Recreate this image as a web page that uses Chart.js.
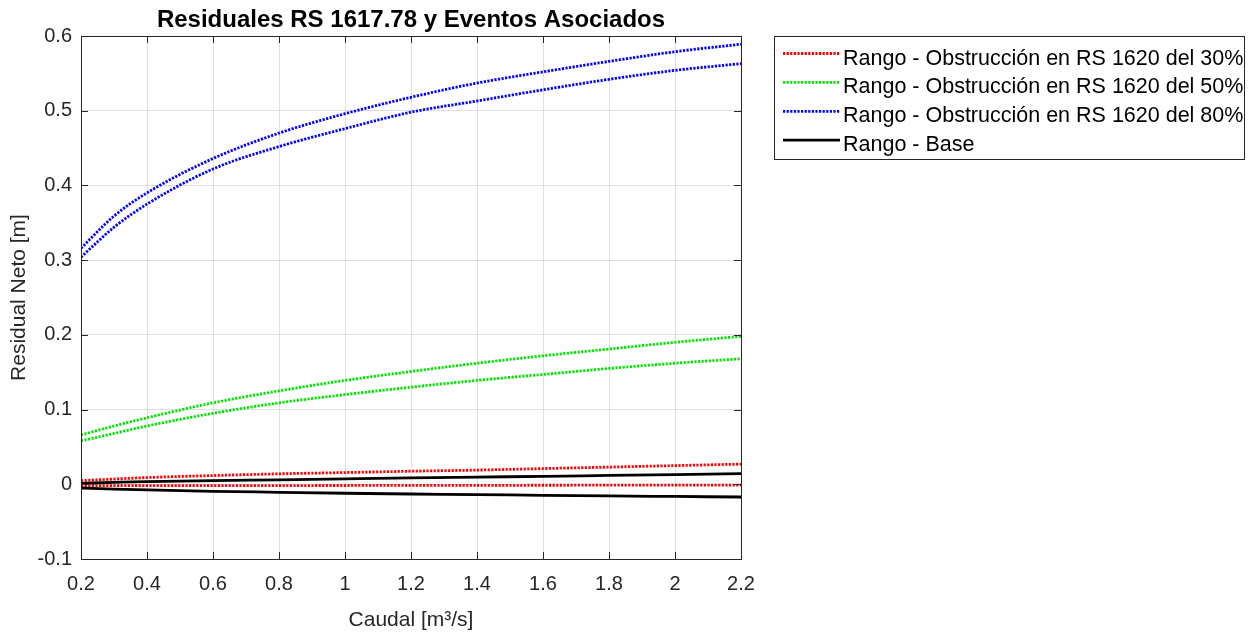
<!DOCTYPE html>
<html>
<head>
<meta charset="utf-8">
<script src="https://cdn.jsdelivr.net/npm/chart.js@4.4.1/dist/chart.umd.min.js"></script>
<style>
  html, body { margin: 0; padding: 0; background: #ffffff; }
  canvas { display: block; }
</style>
</head>
<body>
<canvas id="c" width="1254" height="633" style="width:1254px;height:633px"></canvas>
<script>
// ---- Data ----
const caudal = [0.2, 0.3, 0.4, 0.6, 0.8, 1.0, 1.2, 1.4, 1.6, 1.8, 2.0, 2.2];

const obs30Sup = [0.005, 0.007, 0.009, 0.0117, 0.014, 0.0157, 0.0175, 0.019, 0.021, 0.023, 0.025, 0.027];
const obs30Inf = [-0.002, -0.0018, -0.0017, -0.0017, -0.0017, -0.0016, -0.0015, -0.0014, -0.0013, -0.0012, -0.0011, -0.001];

const obs50Sup = [0.066, 0.078, 0.089, 0.109, 0.125, 0.139, 0.151, 0.162, 0.172, 0.181, 0.190, 0.198];
const obs50Inf = [0.058, 0.068, 0.078, 0.095, 0.109, 0.120, 0.130, 0.139, 0.147, 0.155, 0.162, 0.168];

const obs80Sup = [0.316, 0.359, 0.390, 0.436, 0.470, 0.496, 0.518, 0.537, 0.552, 0.566, 0.579, 0.589];
const obs80Inf = [0.304, 0.344, 0.375, 0.422, 0.452, 0.476, 0.498, 0.513, 0.528, 0.542, 0.554, 0.563];

const baseSup = [0.0013, 0.0025, 0.0036, 0.005, 0.006, 0.0072, 0.0086, 0.0097, 0.0105, 0.0118, 0.013, 0.0142];
const baseInf = [-0.005, -0.0064, -0.0076, -0.0094, -0.0107, -0.012, -0.013, -0.0138, -0.0148, -0.0156, -0.0163, -0.017];

const xTicks = [0.2, 0.4, 0.6, 0.8, 1.0, 1.2, 1.4, 1.6, 1.8, 2.0, 2.2];
const yTicks = [-0.1, 0, 0.1, 0.2, 0.3, 0.4, 0.5, 0.6];

const legendLabels = [
  'Rango - Obstrucción en RS 1620 del 30%',
  'Rango - Obstrucción en RS 1620 del 50%',
  'Rango - Obstrucción en RS 1620 del 80%',
  'Rango - Base'
];
const titleText = 'Residuales RS 1617.78 y Eventos Asociados';
const xTitle = 'Caudal [m³/s]';
const yTitle = 'Residual Neto [m]';

// ---- Styles ----
const FONT = '"Liberation Sans", Arial, Helvetica, sans-serif';
const AX = '#262626';
const styles = [
  { color: '#ff0000', dash: [2.2, 1.4] },
  { color: '#00e600', dash: [2.2, 1.4] },
  { color: '#0000ff', dash: [2.2, 1.4] },
  { color: '#000000', dash: [] }
];
const seriesPairs = [
  [obs30Sup, obs30Inf],
  [obs50Sup, obs50Inf],
  [obs80Sup, obs80Inf],
  [baseSup, baseInf]
];

const toPts = arr => caudal.map((q, i) => ({ x: q, y: arr[i] }));

const datasets = [];
seriesPairs.forEach((pair, k) => {
  pair.forEach((arr, j) => {
    datasets.push({
      label: legendLabels[k] + (j ? ' (inf)' : ' (sup)'),
      data: toPts(arr),
      borderColor: styles[k].color,
      borderDash: styles[k].dash,
      borderWidth: 2.8,
      borderCapStyle: 'butt',
      pointRadius: 0,
      fill: false,
      cubicInterpolationMode: 'monotone',
      order: 10 - k
    });
  });
});

const fmt = v => String(Number(v.toFixed(3)));

const decor = {
  id: 'decor',
  afterDatasetsDraw(chart) {
    const ctx = chart.ctx;
    const a = chart.chartArea;
    const xs = chart.scales.x, ys = chart.scales.y;
    ctx.save();
    // box
    ctx.strokeStyle = AX;
    ctx.lineWidth = 1;
    ctx.setLineDash([]);
    ctx.strokeRect(Math.round(a.left) + 0.5, Math.round(a.top) + 0.5,
                   Math.round(a.right - a.left), Math.round(a.bottom - a.top));
    // inward ticks
    const tl = 7;
    ctx.beginPath();
    xTicks.forEach(v => {
      const px = Math.round(xs.getPixelForValue(v)) + 0.5;
      ctx.moveTo(px, a.bottom); ctx.lineTo(px, a.bottom - tl);
      ctx.moveTo(px, a.top); ctx.lineTo(px, a.top + tl);
    });
    yTicks.forEach(v => {
      const py = Math.round(ys.getPixelForValue(v)) + 0.5;
      ctx.moveTo(a.left, py); ctx.lineTo(a.left + tl, py);
      ctx.moveTo(a.right, py); ctx.lineTo(a.right - tl, py);
    });
    ctx.stroke();

    // title
    ctx.fillStyle = '#000000';
    ctx.font = 'bold 24px ' + FONT;
    ctx.textAlign = 'center';
    ctx.textBaseline = 'alphabetic';
    ctx.fillText(titleText, (a.left + a.right) / 2, 27);

    // legend
    const bx = 774.5, by = 36.5, bw = 470, bh = 123;
    ctx.fillStyle = '#ffffff';
    ctx.fillRect(bx, by, bw, bh);
    ctx.strokeStyle = AX;
    ctx.lineWidth = 1;
    ctx.strokeRect(bx, by, bw, bh);
    ctx.font = '21.5px ' + FONT;
    ctx.textAlign = 'left';
    ctx.textBaseline = 'alphabetic';
    legendLabels.forEach((lab, i) => {
      const base = 64.5 + i * 28.9;
      const ly = base - 11;
      ctx.beginPath();
      ctx.strokeStyle = styles[i].color;
      ctx.lineWidth = 2.8;
      ctx.lineCap = 'butt';
      ctx.setLineDash(styles[i].dash);
      ctx.moveTo(783, ly);
      ctx.lineTo(840, ly);
      ctx.stroke();
      ctx.setLineDash([]);
      ctx.fillStyle = '#000000';
      ctx.fillText(lab, 843, base);
    });
    ctx.restore();
  }
};

new Chart(document.getElementById('c'), {
  type: 'line',
  data: { datasets },
  options: {
    responsive: false,
    animation: false,
    devicePixelRatio: 1,
    layout: { padding: { top: 36, right: 513, left: 0, bottom: 0 } },
    plugins: { legend: { display: false }, tooltip: { enabled: false }, title: { display: false } },
    scales: {
      x: {
        type: 'linear',
        min: 0.2, max: 2.2,
        afterFit(s) { s.height = 74; },
        afterBuildTicks(s) { s.ticks = xTicks.map(v => ({ value: v })); },
        grid: { color: 'rgba(38,38,38,0.15)', drawTicks: false, lineWidth: 1 },
        border: { display: true, color: AX, width: 1 },
        ticks: {
          padding: 13, color: AX, maxRotation: 0, autoSkip: false,
          font: { family: FONT, size: 20 },
          callback: v => fmt(v)
        },
        title: {
          display: true, text: xTitle, color: AX,
          font: { family: FONT, size: 21 },
          padding: { top: 3, bottom: 0 }
        }
      },
      y: {
        type: 'linear',
        min: -0.1, max: 0.6,
        afterFit(s) { s.width = 81; },
        afterBuildTicks(s) { s.ticks = yTicks.map(v => ({ value: v })); },
        grid: { color: 'rgba(38,38,38,0.15)', drawTicks: false, lineWidth: 1 },
        border: { display: true, color: AX, width: 1 },
        ticks: {
          padding: 9, color: AX, autoSkip: false,
          font: { family: FONT, size: 20 },
          callback: v => fmt(v)
        },
        title: {
          display: true, text: yTitle, color: AX,
          font: { family: FONT, size: 21 },
          padding: { top: 7, bottom: 0 }
        }
      }
    }
  },
  plugins: [decor]
});
</script>
</body>
</html>
